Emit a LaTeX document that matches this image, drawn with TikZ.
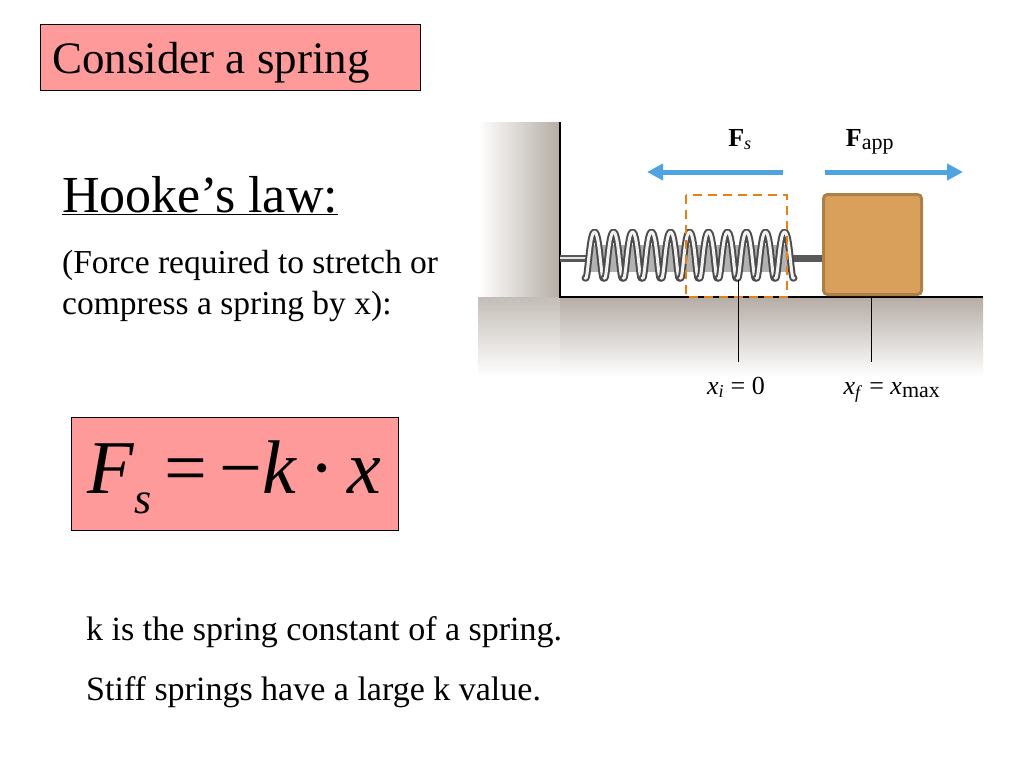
\documentclass[tikz,border=0pt]{standalone}
\usepackage{fontspec}
\setmainfont{Liberation Serif}
\usetikzlibrary{arrows.meta}
\definecolor{pinkbox}{HTML}{FF9A9A}
\definecolor{arrowblue}{HTML}{4EA3E0}
\definecolor{block}{HTML}{D9A05B}
\definecolor{ground}{HTML}{B5ADA5}
\tikzset{box/.style={draw=black,fill=pinkbox,line width=0.6pt},
 farrow/.style={arrowblue,line width=5pt,-{Triangle[length=16pt,width=16pt]}},
 tick/.style={black,line width=1pt}}
\begin{document}
\begin{tikzpicture}[x=1pt,y=-1pt]
\useasboundingbox[fill=white] (0,0) rectangle (1024,768);
% title
\node[box,minimum width=380pt,minimum height=66pt,anchor=north west,inner sep=0pt] (title) at (40,24) {};
\node[anchor=base west,inner sep=0pt,font=\fontsize{45}{45}\selectfont] (tt) at (52,74) {Consider a spring};
% Hooke
\node[anchor=base west,inner sep=0pt,font=\fontsize{52}{52}\selectfont] (hooke) at (62,212) {\underline{Hooke’s law:}};
\node[anchor=north west,inner sep=0pt,align=left,font=\fontsize{33.5}{41}\selectfont] (desc) at (62,250) {(Force required to stretch or\\compress a spring by x):};
% formula
\node[box,minimum width=327pt,minimum height=113pt,anchor=north west,inner sep=0pt] (fbox) at (71,417) {};
\node[anchor=base west,inner sep=0pt,font=\fontsize{76}{76}\selectfont] (form) at (87,493) {\textit{F}\raisebox{-20pt}{\fontsize{44}{44}\selectfont\textit{s}}\,=\,−\textit{k}\,·\,\textit{x}};
% bottom text
\node[anchor=base west,inner sep=0pt,font=\fontsize{34}{34}\selectfont] (t1) at (86,640) {k is the spring constant of a spring.};
\node[anchor=base west,inner sep=0pt,font=\fontsize{34}{34}\selectfont] (t2) at (86,700) {Stiff springs have a large k value.};
% figure ground
\shade[left color=white,right color=ground] (478,122) rectangle (560,377);
\shade[top color=ground,bottom color=white] (560,297) rectangle (983,377);
\shade[top color=ground!80,bottom color=white] (478,297) rectangle (560,377);
\draw[line width=1.5pt] (560,122) -- (560,297) -- (983,297);
% spring
\draw[gray!70!black,line width=7pt] (560,258) -- (590,258);
\draw[gray!70!black,line width=7pt] (785,258) -- (822,258);
\draw[gray!20,line width=2pt] (560,258) -- (590,258);
\fill[gray!60] (588,245) rectangle (790,272);
\foreach \i in {0,...,10}{
 \pgfmathsetmacro{\xa}{585+\i*19}
 \draw[gray!60!black,line width=7pt,line join=round,line cap=round] (\xa,278) .. controls (\xa+3,285) and (\xa+4,232) .. (\xa+9.5,232) .. controls (\xa+15,232) and (\xa+16,285) .. (\xa+19,278);
 \draw[gray!10,line width=3pt,line join=round,line cap=round] (\xa,278) .. controls (\xa+3,285) and (\xa+4,232) .. (\xa+9.5,232) .. controls (\xa+15,232) and (\xa+16,285) .. (\xa+19,278);
}
% dashed box
\draw[orange!60!brown,line width=1.5pt,dash pattern=on 9pt off 6pt] (686,195) rectangle (787,297);
% block
\node[draw=block!80!black,fill=block,rounded corners=4pt,line width=3pt,minimum width=98pt,minimum height=100pt,anchor=south west,inner sep=0pt] (blk) at (822,296) {};
% arrows
\coordinate (fs0) at (783,172); \coordinate (fs1) at (647,172);
\coordinate (fa0) at (825,172); \coordinate (fa1) at (963,172);
\draw[farrow] (fs0) -- (fs1);
\draw[farrow] (fa0) -- (fa1);
\node[anchor=base,inner sep=0pt,font=\fontsize{26}{26}\selectfont] (fsl) at (740,146) {\textbf{F}\textsubscript{\textit{s}}};
\node[anchor=base,inner sep=0pt,font=\fontsize{26}{26}\selectfont] (fal) at (870,146) {\textbf{F}\textsubscript{\fontsize{22}{22}\selectfont app}};
% ticks
\coordinate (a0) at (738,280); \coordinate (a1) at (738,362);
\coordinate (b0) at (871,297); \coordinate (b1) at (871,362);
\draw[tick] (a0) -- (a1);
\draw[tick] (b0) -- (b1);
\node[anchor=base,inner sep=0pt,font=\fontsize{26}{26}\selectfont] (xi) at (736,394) {\textit{x}\textsubscript{\textit{i}} = 0};
\node[anchor=base,inner sep=0pt,font=\fontsize{26}{26}\selectfont] (xf) at (892,394) {\textit{x}\textsubscript{\textit{f}} = \textit{x}\textsubscript{\fontsize{22}{22}\selectfont max}};
\end{tikzpicture}
\end{document}
